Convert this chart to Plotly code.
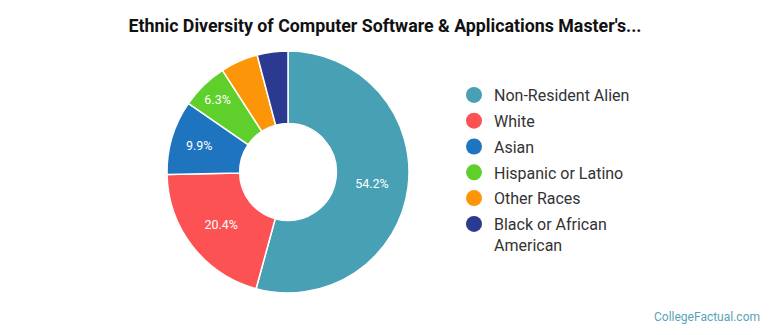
import plotly.graph_objects as go

categories = ["Non-Resident Alien", "White", "Asian", "Hispanic or Latino", "Other Races", "Black or African American"]
legend_labels = ["Non-Resident Alien", "White", "Asian", "Hispanic or Latino", "Other Races", "Black or African<br>American"]
values = [54.2, 20.4, 9.9, 6.3, 5.0, 4.1]
colors = ["#48a0b4", "#fd5254", "#1f74c0", "#5ecf2b", "#fd9508", "#2b3990"]
text_labels = ["54.2%", "20.4%", "9.9%", "6.3%", "", ""]

W, H = 770, 335
cx, cy, r = 288, 172, 121

fig = go.Figure()
fig.add_trace(go.Pie(
    labels=categories, values=values, sort=False, direction="clockwise", rotation=0,
    hole=0.40, marker=dict(colors=colors, line=dict(color="white", width=1.5)),
    text=text_labels, textinfo="text", textposition="inside", insidetextorientation="horizontal",
    textfont=dict(family="Roboto", size=12.5, color="white"),
    showlegend=False, hoverinfo="label+percent",
    domain=dict(x=[(cx - r) / W, (cx + r) / W], y=[(H - cy - r) / H, (H - cy + r) / H]),
))
for i, (lab, col) in enumerate(zip(legend_labels, colors)):
    fig.add_trace(go.Scatter(x=[None], y=[None], mode="markers", name=lab, legendgroup=f"g{i}",
                             marker=dict(symbol="circle", size=16, color=col)))

fig.update_layout(
    width=W, height=H, margin=dict(l=0, r=0, t=0, b=0),
    paper_bgcolor="white", plot_bgcolor="white",
    xaxis=dict(visible=False), yaxis=dict(visible=False),
    title=dict(text="<b>Ethnic Diversity of Computer Software & Applications Master's...</b>",
               x=0.5, xanchor="center", y=1 - 26 / H, yanchor="middle",
               font=dict(family="Roboto", size=17.8, color="#111111")),
    legend=dict(x=454 / W, xanchor="left", y=1 - 78 / H, yanchor="top",
                font=dict(family="Roboto", size=16, color="#333333"),
                tracegroupgap=2, valign="top",
                bgcolor="rgba(0,0,0,0)", itemclick=False),
    annotations=[dict(text="CollegeFactual.com", x=1 - 8 / W, xanchor="right", y=9 / H, yanchor="bottom",
                      xref="paper", yref="paper", showarrow=False,
                      font=dict(family="Roboto", size=12, color="#5aa3b8"))],
)
fig.write_html("out.html")
